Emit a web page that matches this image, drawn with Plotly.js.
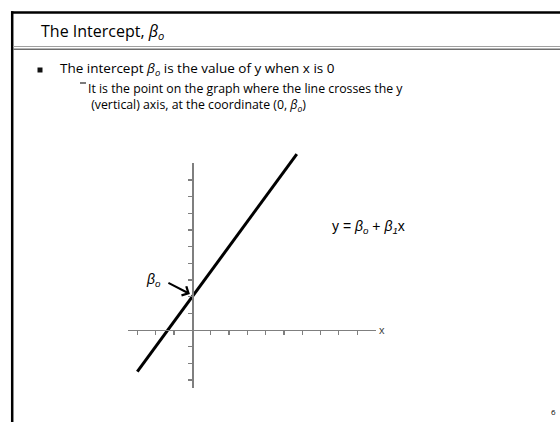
<!DOCTYPE html>
<html>
<head>
<meta charset="utf-8">
<script src="https://cdn.plot.ly/plotly-3.0.1.min.js"></script>
<style>html,body{margin:0;padding:0;background:#fff;}#chart{width:560px;height:422px;}</style>
</head>
<body>
<div id="chart"></div>
<script>
// ---- data ----
var lineX = [-3, 5.7];
var intercept = 2;
var slope = 1.5;
var lineY = lineX.map(function (x) { return intercept + slope * x; });
var xTicks = [-3, -2, -1, 1, 2, 3, 4, 5, 6, 7, 8, 9];
var yTicks = [-3, -2, -1, 1, 2, 3, 4, 5, 6, 7, 8, 9];
var xAxisRange = [-3.5, 10];
var yAxisRange = [-3.5, 10];
var titleText = 'The Intercept, <i>β<sub>o</sub></i>';
var bullet1 = 'The intercept <i>β<sub>o</sub></i> is the value of y when x is 0';
var bullet2 = 'It is the point on the graph where the line crosses the y<br> (vertical) axis, at the coordinate (0, <i>β<sub>o</sub></i>)';
var eqText = 'y = <i>β<sub>o</sub></i> + <i>β<sub>1</sub></i>x';
var pageNo = '6';

// ---- geometry (pixels) ----
var W = 560, H = 422;
var x0px = 192.3, y0px = 330, ux = 18.33, uy = 16.67;
function px(x) { return x / W; }
function py(y) { return 1 - y / H; }

var mainX = [-x0px / ux, (W - x0px) / ux];
var mainY = [-(H - y0px) / uy, y0px / uy];

var font = 'Open Sans, DejaVu Sans, sans-serif';
var eqFont = 'Liberation Sans, Arial, sans-serif';

var traces = [
  { x: [0], y: [0], xaxis: 'x2', yaxis: 'y2', mode: 'markers', marker: { opacity: 0 }, hoverinfo: 'skip', showlegend: false },
  { x: lineX, y: lineY, mode: 'lines', line: { color: '#000', width: 3 }, hoverinfo: 'skip', showlegend: false }
];

var axColor = '#7f7f7f';
var layout = {
  width: W, height: H,
  margin: { l: 0, r: 0, t: 0, b: 0 },
  paper_bgcolor: '#fff', plot_bgcolor: 'rgba(0,0,0,0)',
  showlegend: false,
  xaxis: { range: mainX, domain: [0, 1], visible: false, fixedrange: true },
  yaxis: { range: mainY, domain: [0, 1], visible: false, fixedrange: true },
  xaxis2: {
    anchor: 'free',
    domain: [px(x0px + xAxisRange[0] * ux), px(x0px + xAxisRange[1] * ux)],
    position: py(y0px), range: xAxisRange,
    showline: true, linecolor: axColor, linewidth: 1.3,
    ticks: 'outside', ticklen: 4, tickwidth: 1.1, tickcolor: axColor,
    tickmode: 'array', tickvals: xTicks, showticklabels: false,
    showgrid: false, zeroline: false, fixedrange: true
  },
  yaxis2: {
    anchor: 'free', side: 'left',
    domain: [py(y0px - yAxisRange[0] * uy), py(y0px - yAxisRange[1] * uy)],
    position: px(x0px), range: yAxisRange,
    showline: true, linecolor: axColor, linewidth: 1.3,
    ticks: 'outside', ticklen: 4, tickwidth: 1.1, tickcolor: axColor,
    tickmode: 'array', tickvals: yTicks, showticklabels: false,
    showgrid: false, zeroline: false, fixedrange: true
  },
  shapes: [
    { type: 'line', xref: 'paper', yref: 'paper', x0: px(11), x1: px(560), y0: py(12.5), y1: py(12.5), line: { color: '#000', width: 2.5 } },
    { type: 'line', xref: 'paper', yref: 'paper', x0: px(12.2), x1: px(12.2), y0: py(11.3), y1: py(422), line: { color: '#000', width: 2.5 } },
    { type: 'line', xref: 'paper', yref: 'paper', x0: px(13), x1: px(560), y0: py(46.5), y1: py(46.5), line: { color: '#a0a0a0', width: 1.2 } },
    { type: 'line', xref: 'paper', yref: 'paper', x0: px(13), x1: px(560), y0: py(49.3), y1: py(49.3), line: { color: '#6e6e6e', width: 1.5 } },
    { type: 'rect', xref: 'paper', yref: 'paper', x0: px(37.5), x1: px(42.5), y0: py(67.5), y1: py(72.5), fillcolor: '#111', line: { width: 0 } },
    { type: 'line', xref: 'paper', yref: 'paper', x0: px(80), x1: px(86), y0: py(83), y1: py(83), line: { color: '#222', width: 1.2 } }
  ],
  annotations: [
    { xref: 'paper', yref: 'paper', x: px(39), y: py(31), xanchor: 'left', yanchor: 'middle', text: titleText, showarrow: false, font: { family: font, size: 16, color: '#000' } },
    { xref: 'paper', yref: 'paper', x: px(59), y: py(69), xanchor: 'left', yanchor: 'middle', borderpad: 0, text: bullet1, showarrow: false, font: { family: font, size: 13.5, color: '#000' } },
    { xref: 'paper', yref: 'paper', x: px(87), y: py(78.5), xanchor: 'left', yanchor: 'top', borderpad: 0, align: 'left', text: bullet2, showarrow: false, font: { family: font, size: 12.3, color: '#000' } },
    { xref: 'x', yref: 'y', x: xAxisRange[1] + 0.1, y: 0, xanchor: 'left', yanchor: 'middle', text: 'x', showarrow: false, font: { family: eqFont, size: 11, color: '#444' } },
    { xref: 'x', yref: 'y', x: 7.5, y: 6.2, xanchor: 'left', yanchor: 'middle', text: eqText, showarrow: false, font: { family: eqFont, size: 14, color: '#000' } },
    { xref: 'x', yref: 'y', x: -2.1, y: 3.0, xanchor: 'center', yanchor: 'middle', text: '<i>β<sub>o</sub></i>', showarrow: false, font: { family: eqFont, size: 14, color: '#000' } },
    { xref: 'x', yref: 'y', x: -0.13, y: 2.16, text: '', showarrow: true, arrowhead: 4, arrowsize: 1, arrowwidth: 2, arrowcolor: '#000', ax: -23, ay: -12, standoff: 0 },
    { xref: 'paper', yref: 'paper', x: px(553), y: py(411), xanchor: 'center', yanchor: 'middle', text: pageNo, showarrow: false, font: { family: font, size: 8, color: '#000' } }
  ]
};

Plotly.newPlot('chart', traces, layout, { staticPlot: true, displayModeBar: false });
</script>
</body>
</html>
